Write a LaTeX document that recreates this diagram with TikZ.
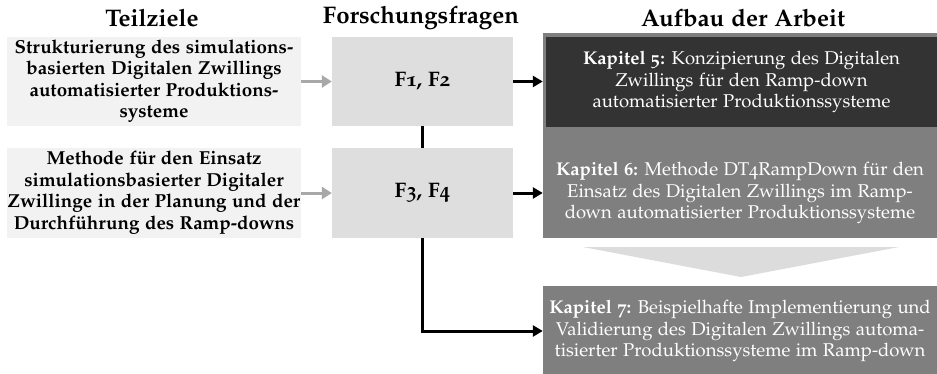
\documentclass[tikz,border=0pt]{standalone}
\usepackage[T1]{fontenc}
\usepackage[osf]{mathpazo}
\usetikzlibrary{arrows.meta}
\definecolor{cLeft}{HTML}{F2F2F2}
\definecolor{cF}{HTML}{DEDEDE}
\definecolor{cDark}{HTML}{333333}
\definecolor{cMid}{HTML}{7F7F7F}
\definecolor{cChev}{HTML}{DCDCDC}
\definecolor{cGArrow}{HTML}{A8A8A8}
\tikzset{
  bodyfont/.style={font=\fontsize{18.5}{21.5}\selectfont},
  headfont/.style={font=\fontsize{24}{28}\selectfont\bfseries},
  lbox/.style={font=\fontsize{18.8}{21.5}\selectfont\bfseries, fill=cLeft, minimum width=294, minimum height=89, align=center, inner sep=0},
  fbox/.style={font=\fontsize{21}{24}\selectfont\bfseries, fill=cF, minimum width=181, minimum height=89, align=center, inner sep=0},
  rtext/.style={bodyfont, text=white, align=center, inner sep=0},
  garrow/.style={draw=cGArrow, line width=3pt, -{Triangle[length=10pt,width=12pt]}},
  barrow/.style={draw=black, line width=3pt, -{Triangle[length=10pt,width=11pt]}},
  bline/.style={draw=black, line width=3pt},
}
\begin{document}
\begin{tikzpicture}[x=1pt,y=-1pt]
\useasboundingbox (0,0) rectangle (937,373);
\fill[white] (0,0) rectangle (937,373);

% headers
\node[headfont] (h1) at (152,18) {Teilziele};
\node[headfont] (h2) at (421,18) {Forschungsfragen};
\node[headfont] (h3) at (743,18) {Aufbau der Arbeit};

% left column
\node[lbox] (t1) at (154,81.5) {Strukturierung des simulations-\\basierten Digitalen Zwillings\\automatisierter Produktions-\\systeme};
\node[lbox, minimum height=90] (t2) at (154,193) {Methode f\"ur den Einsatz\\simulationsbasierter Digitaler\\Zwillinge in der Planung und der\\Durchf\"uhrung des Ramp-downs};

% middle column
\node[fbox] (f1) at (422.5,81.5) {F1, F2};
\node[fbox, minimum height=90] (f2) at (422.5,193) {F3, F4};

% right column
\node[fill=cMid, minimum width=394, minimum height=205, inner sep=0] (k6) at (740,135.5) {};
\node[fill=cDark, minimum width=391, minimum height=90, inner sep=0, rtext] (k5) at (741.5,82) {\textbf{Kapitel 5:} Konzipierung des Digitalen\\Zwillings f\"ur den Ramp-down\\automatisierter Produktionssysteme};
\node[rtext] (k6t) at (740,193) {\textbf{Kapitel 6:} Methode DT4RampDown f\"ur den\\Einsatz des Digitalen Zwillings im Ramp-\\down automatisierter Produktionssysteme};
\coordinate (chl) at (583,247);
\coordinate (chr) at (899,247);
\coordinate (cht) at (741,277);
\fill[cChev] (chl) -- (chr) -- (cht) -- cycle;
\node[fill=cMid, minimum width=394, minimum height=90, inner sep=0, rtext] (k7) at (740,331) {\textbf{Kapitel 7:} Beispielhafte Implementierung und\\Validierung des Digitalen Zwillings automa-\\tisierter Produktionssysteme im Ramp-down};

% connectors
\draw[garrow] (t1.east) -- (f1.west);
\draw[garrow] (t2.east) -- (f2.west);
\draw[barrow] (f1.east) -- (f1.east -| k6.west);
\draw[barrow] (f2.east) -- (f2.east -| k6.west);
\draw[bline] (f1.south) -- (f2.north);
\draw[barrow] (f2.south) |- (k7.west);
\end{tikzpicture}
\end{document}
